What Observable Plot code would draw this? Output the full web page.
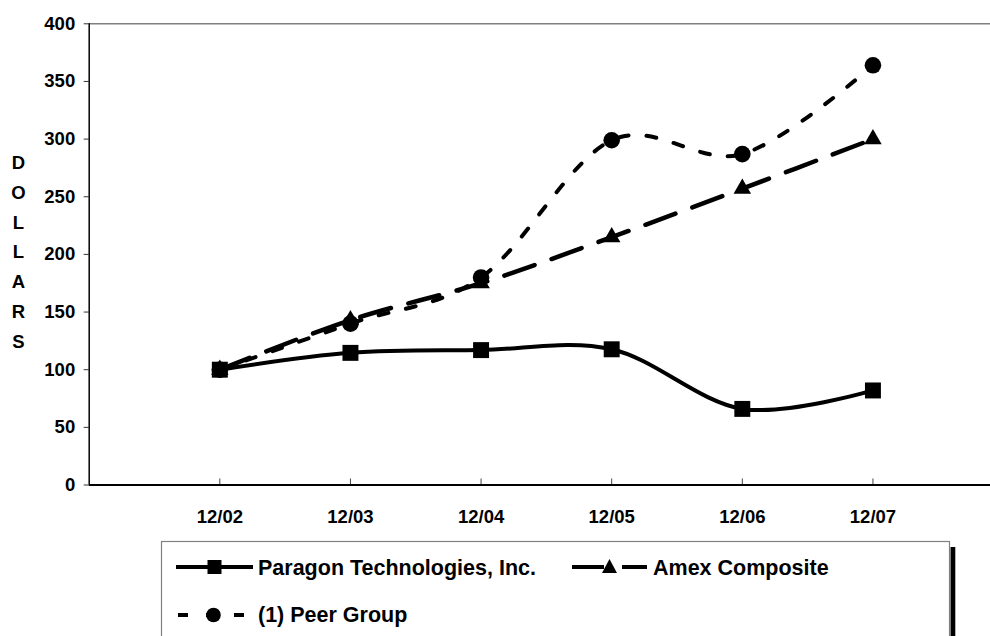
<!DOCTYPE html>
<html>
<head>
<meta charset="utf-8">
<script src="https://cdn.jsdelivr.net/npm/d3@7"></script>
<script src="https://cdn.jsdelivr.net/npm/@observablehq/plot@0.6"></script>
<style>
  html, body { margin: 0; padding: 0; background: #fff; }
  #wrap { position: relative; width: 990px; height: 636px; overflow: hidden; background: #fff; }
  #legend { position: absolute; left: 0; top: 0; }
  #legend text { font-family: "Liberation Sans", Arial, sans-serif; font-weight: bold; font-size: 21.5px; fill: #000; }
</style>
</head>
<body>
<div id="wrap"></div>
<script>
// ---- data ----
const periods = ["12/02", "12/03", "12/04", "12/05", "12/06", "12/07"];
const paragon = [100, 114.6, 117, 117.7, 66, 82];
const amex    = [100, 143, 175, 215, 257, 300];
const peer    = [100, 140, 180, 299, 287, 364];
const yTicks  = [0, 50, 100, 150, 200, 250, 300, 350, 400];
const seriesNames = ["Paragon Technologies, Inc.", "Amex Composite", "(1) Peer Group"];
const yLabel = "DOLLARS";

const rows = (vals) => vals.map((v, i) => ({x: i + 1, period: periods[i], value: v}));
const dParagon = rows(paragon);
const dAmex = rows(amex);
const dPeer = rows(peer);
const xIdx = periods.map((p, i) => i + 1);

const W = 990, H = 540, mTop = 23.3, mBottom = 55.5, mLeft = 88.7;
const plotH = H - mTop - mBottom;

const chart = Plot.plot({
  width: W,
  height: H,
  marginTop: mTop,
  marginBottom: mBottom,
  marginLeft: mLeft,
  marginRight: 0,
  style: {fontFamily: "'Liberation Sans', Arial, sans-serif", fontWeight: "bold", fontSize: "18.5px", color: "#000", background: "#fff"},
  x: {domain: [0, 6.9], axis: null},
  y: {domain: [0, 400], axis: null},
  marks: [
    Plot.ruleY([400], {stroke: "#808080", strokeWidth: 1.5}),
    Plot.axisY({ticks: yTicks, tickSize: 5, tickPadding: 9, tickFormat: d => d, stroke: "#333", label: null}),
    Plot.axisX({ticks: xIdx, tickSize: 0, tickPadding: 24.5, tickFormat: i => periods[i - 1], label: null}),
    Plot.tickX(xIdx, {x: d => d, insetTop: plotH - 6, stroke: "#444", strokeWidth: 1}),
    Plot.text([yLabel.split("").join("\n")], {frameAnchor: "left", dx: -70.7, dy: -5.5, textAnchor: "middle", lineHeight: 1.61, fontSize: 18.5, fontWeight: "bold"}),
    Plot.lineY(dPeer, {x: "x", y: "value", stroke: "#000", strokeWidth: 4, strokeDasharray: "10,18", curve: "cardinal"}),
    Plot.lineY(dAmex, {x: "x", y: "value", stroke: "#000", strokeWidth: 4.5, strokeDasharray: "32,18", curve: "cardinal"}),
    Plot.lineY(dParagon, {x: "x", y: "value", stroke: "#000", strokeWidth: 4, curve: "cardinal"}),
    Plot.dot(dPeer, {x: "x", y: "value", symbol: "circle", r: 8.3, fill: "#000", stroke: "none"}),
    Plot.dot(dAmex, {x: "x", y: "value", symbol: "triangle", r: 6.5, fill: "#000", stroke: "none"}),
    Plot.dot(dParagon, {x: "x", y: "value", symbol: "square", r: 9, fill: "#000", stroke: "none"}),
    Plot.ruleX([0], {stroke: "#000", strokeWidth: 1.5}),
    Plot.ruleY([0], {stroke: "#000", strokeWidth: 2})
  ]
});
document.getElementById("wrap").appendChild(chart);

// ---- legend (below the chart) ----
const ns = "http://www.w3.org/2000/svg";
const leg = document.createElementNS(ns, "svg");
leg.setAttribute("id", "legend");
leg.setAttribute("width", 990);
leg.setAttribute("height", 636);
function el(tag, attrs, parent) {
  const e = document.createElementNS(ns, tag);
  for (const k in attrs) e.setAttribute(k, attrs[k]);
  (parent || leg).appendChild(e);
  return e;
}
el("rect", {x: 950.5, y: 547, width: 4.8, height: 120, fill: "#000"});
el("rect", {x: 161.5, y: 541.5, width: 788, height: 130, fill: "#fff", stroke: "#808080", "stroke-width": 1.2});

function sample(x0, x1, y, dash, sym) {
  el("line", {x1: x0, x2: x1, y1: y, y2: y, stroke: "#000", "stroke-width": 4, "stroke-dasharray": dash || "none"});
  const cx = (x0 + x1) / 2;
  if (sym === "square") el("rect", {x: cx - 7, y: y - 7, width: 14, height: 14, fill: "#000"});
  if (sym === "circle") el("circle", {cx: cx - 2, cy: y, r: 7.3, fill: "#000"});
  if (sym === "triangle") el("path", {d: `M${cx},${y - 8}L${cx + 7.5},${y + 6}L${cx - 7.5},${y + 6}Z`, fill: "#000"});
}
sample(176, 253, 567, null, "square");
el("text", {x: 258, y: 574.5}).textContent = seriesNames[0];
sample(572, 647, 567, "32,18", "triangle");
el("text", {x: 653, y: 574.5}).textContent = seriesNames[1];
sample(178, 253, 615, "10,18", "circle");
el("text", {x: 258, y: 622}).textContent = seriesNames[2];
document.getElementById("wrap").appendChild(leg);
</script>
</body>
</html>
